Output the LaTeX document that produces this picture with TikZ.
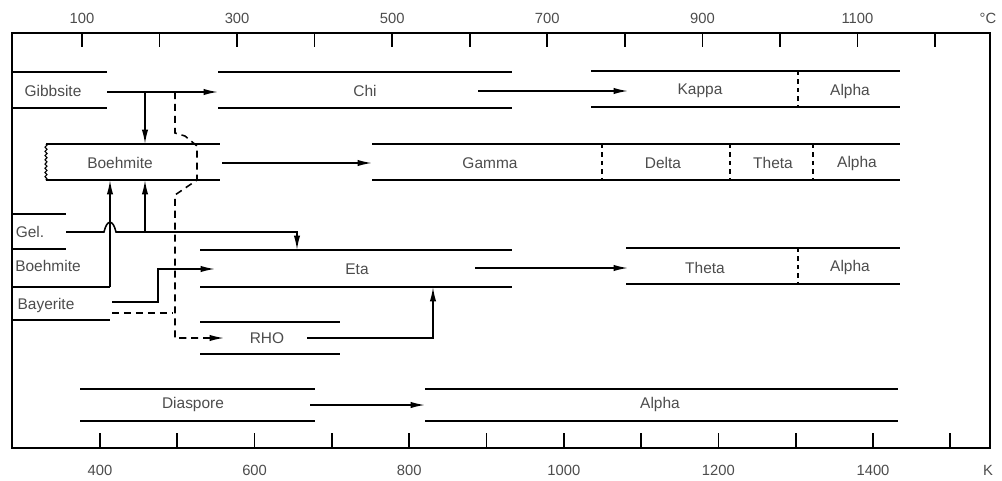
\documentclass[tikz,border=0pt]{standalone}
\usepackage{fontspec}
\setmainfont{Liberation Sans}
\usetikzlibrary{arrows.meta,decorations.pathmorphing}
\begin{document}
\begin{tikzpicture}[x=0.025cm,y=-0.025cm,
  band/.style={line width=2pt},
  flow/.style={line width=1.1pt,-{Latex[length=3.6mm,width=1.6mm]}},
  phase/.style={text=black!70,font=\fontsize{11}{12}\selectfont},
  scalelabel/.style={text=black!70,font=\fontsize{10.5}{12}\selectfont},
  divider/.style={line width=0.8pt,dash pattern=on 3pt off 3pt},
  route/.style={dash pattern=on 5pt off 3.5pt}]
\useasboundingbox (0,0) rectangle (1002,481);
% frame and the two scales
\draw[line width=1.6pt] (12,33) rectangle (990,448);
\foreach \i in {0,...,11}
  \draw[line width=1.2pt] ({82+77.55*\i},33) -- ({82+77.55*\i},47);
\foreach \t [count=\i from 0] in {100,300,500,700,900,1100}
  \node[scalelabel] (c\t) at ({82+155.1*\i},18) {\t};
\node[scalelabel] (celsius) at (988,18) {°C};
\foreach \i in {0,...,11}
  \draw[line width=1.2pt] ({100+77.3*\i},448) -- ({100+77.3*\i},433);
\foreach \t [count=\i from 0] in {400,600,...,1400}
  \node[scalelabel] (k\t) at ({100+154.6*\i},470) {\t};
\node[scalelabel] (kelvin) at (988,470) {K};

% phases
\node[phase] (gib) at (53,91) {Gibbsite};
\node[phase] (chi) at (365,91) {Chi};
\node[phase] (kappa) at (700,91) {Kappa};
\node[phase] (alphaA) at (850,91) {Alpha};
\node[phase] (boeh) at (120,163) {Boehmite};
\node[phase] (gamma) at (490,163) {Gamma};
\node[phase] (delta) at (663,163) {Delta};
\node[phase] (thetaA) at (773,163) {Theta};
\node[phase] (alphaB) at (857,163) {Alpha};
\node[phase] (gel) at (30,232) {Gel.};
\node[phase] (boehB) at (48,266) {Boehmite};
\node[phase] (bay) at (46,305) {Bayerite};
\node[phase] (eta) at (357,269) {Eta};
\node[phase] (thetaB) at (705,268) {Theta};
\node[phase] (alphaC) at (850,267) {Alpha};
\node[phase] (rho) at (267,338) {RHO};
\node[phase] (dia) at (193,404) {Diaspore};
\node[phase] (alphaD) at (660,404) {Alpha};

% bands
\draw[band] (12,72) -- (107,72) (12,108) -- (107,108);
\draw[band] (218,72) -- (512,72) (218,108) -- (512,108);
\draw[band] (591,71) -- (900,71) (591,107) -- (900,107);
\draw[divider] (798,71) -- (798,107);
\draw[band] (46,144) -- (220,144) (46,180) -- (220,180);
\draw[line width=0.8pt,decorate,decoration={zigzag,amplitude=0.7pt,segment length=3pt}] (46,144) -- (46,180);
\draw[band] (372,144) -- (900,144) (372,180) -- (900,180);
\foreach \x in {602,730,813}
  \draw[divider] (\x,144) -- (\x,180);
\draw[band] (12,214) -- (66,214) (12,249) -- (66,249);
\draw[band] (12,287) -- (110,287) (12,320) -- (110,320);
\draw[band] (200,250) -- (512,250) (200,287) -- (512,287);
\draw[band] (626,248) -- (900,248) (626,284) -- (900,284);
\draw[divider] (798,248) -- (798,284);
\draw[band] (200,322) -- (340,322) (200,354) -- (340,354);
\draw[band] (80,389) -- (315,389) (80,421) -- (315,421);
\draw[band] (425,389) -- (898,389) (425,421) -- (898,421);

% ends of the connectors
\coordinate (gibR) at (107,92);
\coordinate (chiL) at (218,92);
\coordinate (gibD) at (145,92);
\coordinate (boehT) at (145,144);
\coordinate (chiR) at (478,91);
\coordinate (kapL) at (628,91);
\coordinate (boehR) at (222,163);
\coordinate (gamL) at (372,163);
\coordinate (dashTop) at (175,92);
\coordinate (rhoL) at (224,338);
\coordinate (boehBr) at (110,287);
\coordinate (boehBl) at (110,180);
\coordinate (gelR) at (66,232);
\coordinate (gelUp) at (145,232);
\coordinate (boehBm) at (145,180);
\coordinate (etaT) at (297,250);
\coordinate (bayR) at (112,302);
\coordinate (etaL) at (215,269);
\coordinate (bayD) at (112,313);
\coordinate (bayDe) at (172,313);
\coordinate (rhoR) at (307,338);
\coordinate (etaB) at (433,287);
\coordinate (etaR) at (475,268);
\coordinate (theL) at (628,268);
\coordinate (diaR) at (310,405);
\coordinate (alpL) at (425,405);

% connectors
\draw[flow] (gibR) -- (chiL);
\draw[flow] (gibD) -- (boehT);
\draw[flow] (chiR) -- (kapL);
\draw[flow] (boehR) -- (gamL);
\draw[flow] (boehBr) -- (boehBl);
\draw[flow] (gelR) -- (104,232) .. controls (107,219) and (113,219) .. (116,232) -- (297,232) -- (etaT);
\draw[flow] (gelUp) -- (boehBm);
\draw[flow] (bayR) -- (158,302) -- (158,269) -- (etaL);
\draw[line width=1.1pt,route] (bayD) -- (bayDe);
\draw[flow,route] (dashTop) -- (175,133) -- (185,136) -- (197,146) -- (197,180) -- (175,195) -- (175,338) -- (rhoL);
\draw[flow] (rhoR) -- (433,338) -- (etaB);
\draw[flow] (etaR) -- (theL);
\draw[flow] (diaR) -- (alpL);
\end{tikzpicture}
\end{document}
